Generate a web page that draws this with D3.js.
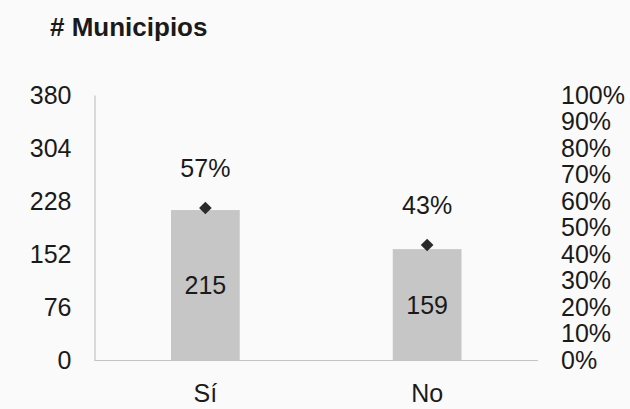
<!DOCTYPE html>
<html>
<head>
<meta charset="utf-8">
<script src="https://cdn.jsdelivr.net/npm/d3@7"></script>
<style>
  html, body { margin: 0; padding: 0; background: #fafafa; }
  svg { display: block; }
  text { font-family: "Liberation Sans", Arial, sans-serif; fill: #1a1a1a; }
</style>
</head>
<body>
<svg id="chart" width="630" height="409"></svg>
<script>
const categories = ["Sí", "No"];
const counts = [215, 159];
const shares = [0.57, 0.43];
const shareLabels = ["57%", "43%"];
const leftTicks = [0, 76, 152, 228, 304, 380];
const rightTicks = [0, 0.1, 0.2, 0.3, 0.4, 0.5, 0.6, 0.7, 0.8, 0.9, 1.0];
const title = "# Municipios";

const svg = d3.select("#chart");
const W = 630, H = 409;
const FS = 25;
svg.append("rect").attr("width", W).attr("height", H).attr("fill", "#fafafa");

const m = { left: 94.5, right: 538, top: 95, bottom: 360 };

const x = d3.scaleBand().domain(categories).range([m.left, m.right])
  .paddingInner(0.69).paddingOuter(0.345);
const y = d3.scaleLinear().domain([0, 380]).range([m.bottom, m.top]);
const y2 = d3.scaleLinear().domain([0, 1]).range([m.bottom, m.top]);

// title
svg.append("text").attr("x", 50).attr("y", 36)
  .attr("font-size", 26).attr("font-weight", "bold").text(title);

// left axis
const gl = svg.append("g").attr("transform", `translate(${m.left},0)`)
  .call(d3.axisLeft(y).tickValues(leftTicks).tickSize(0).tickPadding(23));
gl.select(".domain").attr("stroke", "#c4c4c4").attr("stroke-width", 1.2);
gl.selectAll("text").attr("font-size", FS).attr("fill", "#1a1a1a")
  .attr("font-family", "Liberation Sans, Arial, sans-serif");

// right axis (labels only)
const gr = svg.append("g").attr("transform", `translate(561,0)`)
  .call(d3.axisRight(y2).tickValues(rightTicks).tickSize(0).tickPadding(0)
    .tickFormat(d3.format(".0%")));
gr.select(".domain").remove();
gr.selectAll("text").attr("font-size", FS).attr("fill", "#1a1a1a")
  .attr("font-family", "Liberation Sans, Arial, sans-serif");

// bars
svg.selectAll("rect.bar").data(categories).join("rect").attr("class", "bar")
  .attr("x", d => x(d))
  .attr("width", x.bandwidth())
  .attr("y", (d, i) => y(counts[i]))
  .attr("height", (d, i) => y(0) - y(counts[i]))
  .attr("fill", "#c6c6c6");

// x axis line
svg.append("line").attr("x1", m.left).attr("x2", m.right)
  .attr("y1", y(0) + 0.5).attr("y2", y(0) + 0.5)
  .attr("stroke", "#c4c4c4").attr("stroke-width", 1.2);

// bar value labels
svg.selectAll("text.val").data(categories).join("text").attr("class", "val")
  .attr("x", d => x(d) + x.bandwidth() / 2)
  .attr("y", (d, i) => (y(counts[i]) + y(0)) / 2 + 9)
  .attr("text-anchor", "middle").attr("font-size", FS)
  .text((d, i) => counts[i]);

// diamonds
const sym = d3.symbol().type(d3.symbolSquare).size(80);
svg.selectAll("path.dia").data(categories).join("path").attr("class", "dia")
  .attr("d", sym)
  .attr("transform", (d, i) => `translate(${x(d) + x.bandwidth() / 2},${y2(shares[i]) - 1}) rotate(45)`)
  .attr("fill", "#2b2b2b");

// share labels
svg.selectAll("text.pct").data(categories).join("text").attr("class", "pct")
  .attr("x", d => x(d) + x.bandwidth() / 2)
  .attr("y", (d, i) => y2(shares[i]) - 32)
  .attr("text-anchor", "middle").attr("font-size", FS)
  .text((d, i) => shareLabels[i]);

// category labels
svg.selectAll("text.cat").data(categories).join("text").attr("class", "cat")
  .attr("x", d => x(d) + x.bandwidth() / 2)
  .attr("y", 402)
  .attr("text-anchor", "middle").attr("font-size", FS)
  .text(d => d);
</script>
</body>
</html>
